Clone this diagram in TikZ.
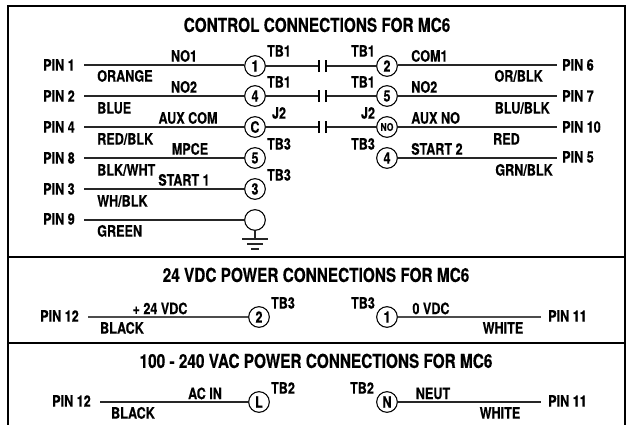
\documentclass[tikz,border=0pt]{standalone}
\usepackage{fontspec}
\usetikzlibrary{calc}
\setmainfont[FakeStretch=0.8,BoldFont=TeX Gyre Heros Bold,BoldFeatures={FakeStretch=0.8,FakeBold=0.4}]{TeX Gyre Heros}
\tikzset{
  lab/.style={font=\bfseries\fontsize{11.8}{12}\selectfont,inner sep=0pt,anchor=center,yshift=-0.7pt},
  ttl/.style={font=\bfseries\fontsize{14.4}{15}\selectfont,inner sep=0pt,anchor=center,yshift=-0.7pt},
  term/.style={circle,draw,line width=0.8pt,minimum size=15.5pt,inner sep=0pt,font=\bfseries\fontsize{11.8}{12}\selectfont,fill=white},
  wire/.style={line width=0.8pt,draw=black!85},
  frameline/.style={line width=0.9pt},
}
\begin{document}
\begin{tikzpicture}[x=0.75pt,y=-0.75pt]
\useasboundingbox (0,0) rectangle (629,425);
\draw[frameline] (8,425) -- (8,6) -- (625,6) -- (625,425);
\draw[frameline] (8,257) -- (625,257);
\draw[frameline] (8,343) -- (625,343);
\node[ttl] (t1) at (317,24) {CONTROL CONNECTIONS FOR MC6};
\node[ttl] (t2) at (316,274) {24 VDC POWER CONNECTIONS FOR MC6};
\node[ttl] (t3) at (316,360) {100 - 240 VAC POWER CONNECTIONS FOR MC6};
% terminals
\node[term] (a1) at (255,66) {1};
\node[term] (a2) at (255,96) {4};
\node[term] (a3) at (255,127) {C};
\node[term] (a4) at (255,158) {5};
\node[term] (a5) at (255,189) {3};
\node[term] (a6) at (255,220) {};
\node[term] (b1) at (387,66) {2};
\node[term] (b2) at (387,96) {5};
\node[term] (b3) at (387,127) {\fontsize{8}{8}\selectfont NO};
\node[term] (b4) at (387,158) {4};
\node[term] (c1) at (259,317) {2};
\node[term] (c2) at (387,317) {1};
\node[term] (d1) at (259,402) {L};
\node[term] (d2) at (387,402) {N};
% pin labels
\foreach \n/\y/\t in {p1/64/PIN 1,p2/95/PIN 2,p4/126/PIN 4,p8/157/PIN 8,p3/188/PIN 3,p9/218/PIN 9}
  \node[lab,anchor=west] (\n) at (43,\y) {\t};
\node[lab,anchor=west] (q6) at (562,64) {PIN 6};
\node[lab,anchor=west] (q7) at (562,95) {PIN 7};
\node[lab,anchor=west] (q10) at (562,126) {PIN 10};
\node[lab,anchor=west] (q5) at (562,156) {PIN 5};
\node[lab,anchor=west] (r12) at (40,315) {PIN 12};
\node[lab,anchor=west] (s12) at (52,400) {PIN 12};
\node[lab,anchor=west] (r11) at (548,315) {PIN 11};
\node[lab,anchor=west] (s11) at (548,400) {PIN 11};
% free ends
\foreach \n/\y in {1/65,2/96,3/127,4/158,5/189,6/220} \coordinate (l\n) at (84,\y);
\foreach \n/\y in {1/65,2/96,3/127,4/158} \coordinate (m\n) at (557,\y);
\coordinate (l7) at (88,317); \coordinate (l8) at (100,402);
\coordinate (m7) at (541,317); \coordinate (m8) at (541,402);
\foreach \n in {1,...,6} \draw[wire] (l\n) -- (a\n.west |- l\n);
\foreach \n in {1,...,4} \draw[wire] (b\n.east |- m\n) -- (m\n);
\draw[wire,line width=1.2pt,draw=black!70] (l7) -- (c1);
\draw[wire,line width=1.2pt,draw=black!70] (c2) -- (m7);
\draw[wire] (l8) -- (d1);
\draw[wire] (d2) -- (m8);
% contacts
\foreach \n in {1,2,3}{
  \coordinate (u\n) at ($(a\n)+(64,0)$);
  \coordinate (v\n) at ($(b\n)+(-61,0)$);
  \draw[wire] (a\n) -- (u\n);
  \draw[wire] (b\n) -- (v\n);
  \draw[line width=0.8pt] ([yshift=-4.5pt]u\n) -- ([yshift=4.5pt]u\n);
  \draw[line width=0.8pt] ([yshift=-4.5pt]v\n) -- ([yshift=4.5pt]v\n);
}
% ground
\coordinate (g1) at (255,239);
\draw[wire] (a6) -- (g1);
\draw[wire] (242,239) -- (268,239);
\draw[wire] (247,244) -- (263,244);
\draw[wire] (251,249) -- (259,249);
% wire labels left
\node[lab] at (184,55) {NO1};
\node[lab] at (184,86) {NO2};
\node[lab] at (188,117) {AUX COM};
\node[lab] at (190,148) {MPCE};
\node[lab] at (184,179) {START 1};
\node[lab,anchor=west] at (97,75) {ORANGE};
\node[lab,anchor=west] at (97,107) {BLUE};
\node[lab,anchor=west] at (97,138) {RED/BLK};
\node[lab,anchor=west] at (97,169) {BLK/WHT};
\node[lab,anchor=west] at (97,200) {WH/BLK};
\node[lab,anchor=west] at (97,230) {GREEN};
% TB labels
\node[lab] at (279,50) {TB1};
\node[lab] at (279,81) {TB1};
\node[lab] at (279,112) {J2};
\node[lab] at (279,143) {TB3};
\node[lab] at (279,174) {TB3};
\node[lab] at (363,50) {TB1};
\node[lab] at (363,81) {TB1};
\node[lab] at (368,112) {J2};
\node[lab] at (363,143) {TB3};
% right labels
\node[lab,anchor=west] at (411,55) {COM1};
\node[lab,anchor=west] at (411,86) {NO2};
\node[lab,anchor=west] at (411,117) {AUX NO};
\node[lab,anchor=west] at (411,148) {START 2};
\node[lab,anchor=east] at (543,75) {OR/BLK};
\node[lab,anchor=east] at (550,107) {BLU/BLK};
\node[lab,anchor=east] at (520,138) {RED};
\node[lab,anchor=east] at (553,169) {GRN/BLK};
% lower
\node[lab] at (160,307.5) {+ 24 VDC};
\node[lab] at (122,327) {BLACK};
\node[lab] at (283,302) {TB3};
\node[lab] at (363,302) {TB3};
\node[lab] at (431,307.5) {0 VDC};
\node[lab] at (503,327) {WHITE};
\node[lab] at (205,392.5) {AC IN};
\node[lab] at (133,412) {BLACK};
\node[lab] at (283,387) {TB2};
\node[lab] at (362,387) {TB2};
\node[lab] at (433,392.5) {NEUT};
\node[lab] at (500,412) {WHITE};
\end{tikzpicture}
\end{document}
